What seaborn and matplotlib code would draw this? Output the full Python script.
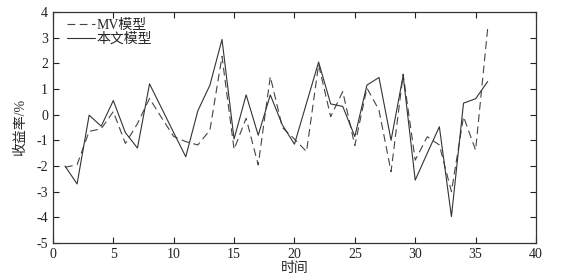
import matplotlib
matplotlib.use("Agg")
import matplotlib.pyplot as plt
import seaborn as sns
import pandas as pd

periods = list(range(1, 37))
mv_model = [-2.05, -1.95, -0.65, -0.55, 0.12, -1.12, -0.35, 0.63, -0.12, -0.85,
            -1.05, -1.18, -0.6, 2.27, -1.35, -0.14, -1.96, 1.48, -0.5, -0.95,
            -1.44, 1.95, -0.08, 0.9, -1.2, 1.04, 0.18, -2.22, 1.58, -1.77,
            -0.86, -1.18, -3.0, -0.08, -1.38, 3.36]
our_model = [-2.0, -2.7, -0.02, -0.45, 0.55, -0.7, -1.3, 1.2, 0.25, -0.7,
             -1.64, 0.15, 1.15, 2.93, -0.95, 0.77, -0.8, 0.77, -0.4, -1.15,
             0.45, 2.05, 0.42, 0.32, -0.85, 1.15, 1.45, -1.0, 1.52, -2.55,
             -1.5, -0.47, -3.97, 0.45, 0.62, 1.29]
series_names = ["MV模型", "本文模型"]
x_ticks = [0, 5, 10, 15, 20, 25, 30, 35, 40]
y_ticks = [-5, -4, -3, -2, -1, 0, 1, 2, 3, 4]

df = pd.DataFrame({
    "时间": periods * 2,
    "收益率": mv_model + our_model,
    "模型": [series_names[0]] * len(periods) + [series_names[1]] * len(periods),
})

sns.set_style("ticks")
plt.rcParams["font.family"] = ["Liberation Serif", "Noto Sans CJK SC"]
plt.rcParams["axes.unicode_minus"] = False

fig = plt.figure(figsize=(5.63, 2.79), dpi=100)
ax = fig.add_axes([0.094, 0.129, 0.858, 0.828])

sns.lineplot(data=df, x="时间", y="收益率", hue="模型", style="模型",
             palette={series_names[0]: "#444444", series_names[1]: "#333333"},
             dashes={series_names[0]: (7, 4), series_names[1]: ""},
             linewidth=0.8, ax=ax, legend=True)

ax.set_xlim(0, 40)
ax.set_ylim(-5, 4)
ax.set_xticks(x_ticks)
ax.set_yticks(y_ticks)
ax.set_xticklabels([str(t) for t in x_ticks])
ax.set_yticklabels([str(t) for t in y_ticks])
ax.tick_params(direction="in", length=4, width=0.8, labelsize=10, colors="#222222",
               top=True, right=True)
for s in ax.spines.values():
    s.set_linewidth(0.9)
    s.set_color("#333333")
    s.set_visible(True)

ax.set_xlabel("时间", fontsize=10, labelpad=1)
ax.set_ylabel("收益率/%", fontsize=10, labelpad=7)

leg = ax.legend(loc="upper left", frameon=False, fontsize=10, handlelength=2.0,
                handletextpad=0.1, borderaxespad=0.1, labelspacing=0.05,
                bbox_to_anchor=(0.015, 1.0))
for line in leg.get_lines():
    line.set_linewidth(0.8)

fig.savefig("out.png", dpi=100)
